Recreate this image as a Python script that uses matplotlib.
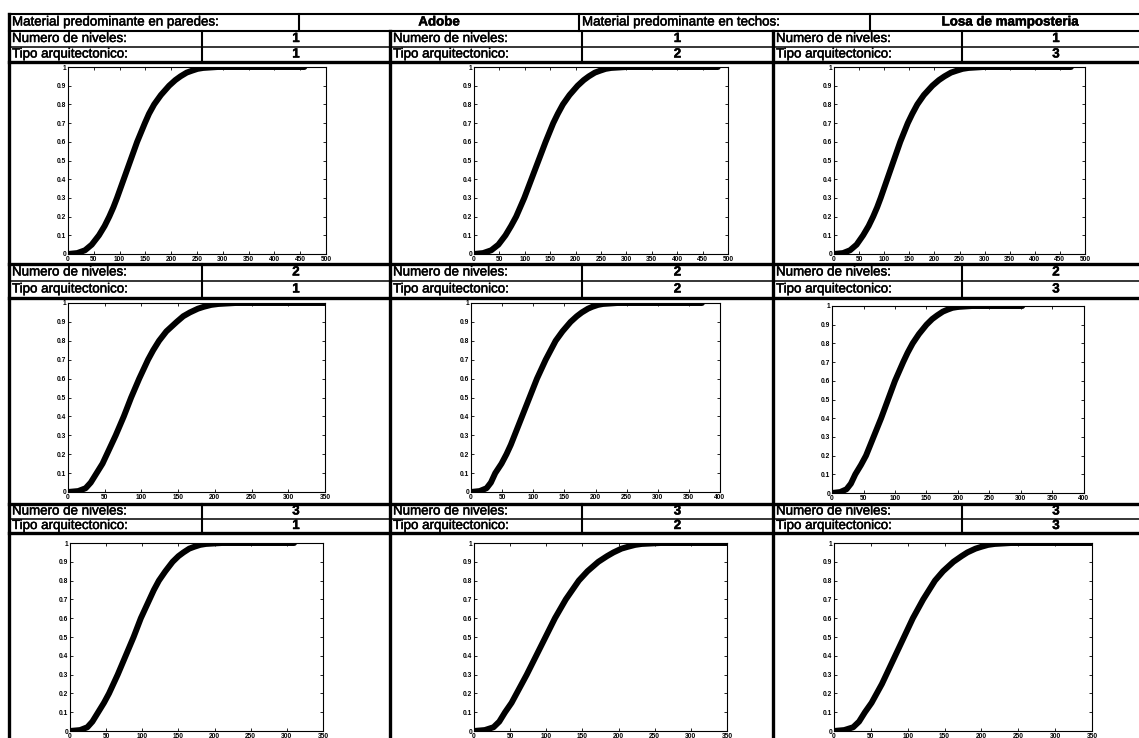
import numpy as np
import matplotlib
matplotlib.use("Agg")
import matplotlib.pyplot as plt
import matplotlib.patheffects as pe

plt.rcParams['font.family'] = ['Liberation Sans', 'DejaVu Sans']

W, H = 1139, 738

# ---- header / table texts ----
header_left_label = "Material predominante en paredes:"
header_left_value = "Adobe"
header_right_label = "Material predominante en techos:"
header_right_value = "Losa de mamposteria"
label_niveles = "Numero de niveles:"
label_tipo = "Tipo arquitectonico:"

# (niveles, tipo) for each panel, row by row
niveles = [[1, 1, 1], [2, 2, 2], [3, 3, 3]]
tipos = [[1, 2, 3], [1, 2, 3], [1, 2, 3]]

# ---- curves: probability levels and the abscissa where each panel reaches them ----
prob_levels = [0, 0.005, 0.02, 0.05, 0.1, 0.15, 0.2, 0.25, 0.3, 0.4, 0.5, 0.6, 0.7,
               0.75, 0.8, 0.85, 0.9, 0.93, 0.95, 0.97, 0.98, 0.99, 0.995, 1.0, 1.0]

x_r1c1 = [0, 18, 33, 46, 60, 71, 80, 88, 95, 108, 121, 134, 149, 157, 167, 180, 196, 208, 218, 230, 240, 251, 262, 290, 458]
x_r1c2 = [0, 18, 34, 48, 62, 73, 83, 91, 99, 113, 127, 141, 156, 165, 175, 188, 204, 216, 226, 238, 248, 259, 270, 300, 480]
x_r1c3 = [0, 18, 32, 45, 58, 69, 78, 86, 93, 106, 119, 132, 147, 156, 166, 179, 196, 209, 220, 233, 244, 256, 268, 298, 472]

x_r2c1 = [0, 14, 24, 31, 39, 47, 53, 59, 65, 76, 86, 97, 109, 116, 124, 134, 148, 157, 166, 177, 185, 195, 205, 228, 350]
x_r2c2 = [0, 14, 25, 32, 39, 49, 57, 64, 70, 82, 94, 106, 120, 128, 136, 147, 160, 170, 178, 188, 195, 204, 212, 235, 371]
x_r2c3 = [0, 13, 23, 30, 37, 46, 54, 60, 66, 78, 89, 100, 113, 120, 128, 138, 150, 159, 167, 176, 183, 191, 200, 222, 302]

x_r3c1 = [0, 14, 24, 31, 39, 47, 54, 60, 66, 77, 88, 98, 110, 116, 123, 132, 142, 150, 157, 165, 172, 180, 188, 210, 310]
x_r3c2 = [0, 15, 27, 35, 43, 52, 59, 66, 73, 86, 99, 112, 127, 136, 145, 157, 172, 184, 193, 204, 213, 223, 232, 258, 350]
x_r3c3 = [0, 14, 26, 34, 42, 51, 58, 65, 71, 83, 95, 107, 121, 129, 137, 148, 162, 173, 181, 192, 200, 209, 218, 240, 350]

curves = [[x_r1c1, x_r1c2, x_r1c3],
          [x_r2c1, x_r2c2, x_r2c3],
          [x_r3c1, x_r3c2, x_r3c3]]

# x-axis upper limits per panel
xmax = [[500, 500, 500], [350, 400, 400], [350, 350, 350]]
ytick_values = [0, 0.1, 0.2, 0.3, 0.4, 0.5, 0.6, 0.7, 0.8, 0.9, 1.0]
ytick_labels = ['0', '0.1', '0.2', '0.3', '0.4', '0.5', '0.6', '0.7', '0.8', '0.9', '1']

# ---- layout in pixels ----
left_edge = 9
col_sep = [390, 773]
col_left = [left_edge, 390, 773]
col_right = [390, 773, 1150]
val_div = [202, 582, 962]

header_top, header_bot = 14, 31
header_divs = [299, 579, 870]
bands = [(31, 47, 62), (264, 281, 298), (504, 519, 533)]

# axes rectangles (left, top, right, bottom)
axes_px = [
    [(68, 67, 326, 254), (474, 67, 728, 254), (834, 67, 1085, 254)],
    [(68, 303, 325, 492), (471, 303, 720, 492), (832, 306, 1084, 493)],
    [(70, 543, 323, 731), (474, 543, 727, 731), (834, 543, 1092, 731)],
]

fig = plt.figure(figsize=(W / 100, H / 100), dpi=100)
fig.patch.set_facecolor('white')

ov = fig.add_axes([0, 0, 1, 1])
ov.set_xlim(0, W)
ov.set_ylim(H, 0)
ov.axis('off')

thick, mid, thin = 2.4, 1.5, 1.1
fs_text = 9.6
heavy = [pe.withStroke(linewidth=0.35, foreground='black')]


def cell_text(x, y, s, ha='left', bold=False):
    ov.text(x, y, s, ha=ha, va='center', fontsize=fs_text,
            fontweight='bold' if bold else 'normal', path_effects=heavy)


# header row
ov.plot([left_edge, W], [header_top, header_top], color='black', lw=mid)
for xd in header_divs:
    ov.plot([xd, xd], [header_top, header_bot], color='black', lw=mid)
ymid = (header_top + header_bot) / 2
cell_text(left_edge + 3, ymid, header_left_label)
cell_text((header_divs[0] + header_divs[1]) / 2, ymid, header_left_value, ha='center', bold=True)
cell_text(header_divs[1] + 3, ymid, header_right_label)
cell_text(1010, ymid, header_right_value, ha='center', bold=True)

# outer vertical lines
ov.plot([left_edge, left_edge], [header_top, H], color='black', lw=thick)
for xs in col_sep:
    ov.plot([xs, xs], [header_bot, H], color='black', lw=thick)

for r, (t, m, b) in enumerate(bands):
    ov.plot([left_edge, W], [t, t], color='black', lw=mid if r == 0 else thick)
    ov.plot([left_edge, W], [m, m], color='black', lw=thin)
    ov.plot([left_edge, W], [b, b], color='black', lw=thick)
    for c in range(3):
        ov.plot([val_div[c], val_div[c]], [t, b], color='black', lw=mid)
        for (yt, yb, lab, val) in [(t, m, label_niveles, niveles[r][c]),
                                   (m, b, label_tipo, tipos[r][c])]:
            yc = (yt + yb) / 2
            cell_text(col_left[c] + 3, yc, lab)
            cell_text((val_div[c] + col_right[c]) / 2, yc, str(val), ha='center', bold=True)

# plot panels
for r in range(3):
    for c in range(3):
        l, t, rr, b = axes_px[r][c]
        ax = fig.add_axes([l / W, 1 - b / H, (rr - l) / W, (b - t) / H])
        ax.plot(curves[r][c], prob_levels, color='black', lw=4.3,
                solid_capstyle='round', solid_joinstyle='round')
        ax.set_xlim(0, xmax[r][c])
        ax.set_ylim(0, 1)
        xt = list(range(0, xmax[r][c] + 1, 50))
        ax.set_xticks(xt)
        ax.set_xticklabels([str(v) for v in xt])
        ax.set_yticks(ytick_values)
        ax.set_yticklabels(ytick_labels)
        ax.tick_params(direction='in', top=True, right=True, length=2.5, width=0.6,
                       labelsize=4.8, pad=1.2)
        for lbl in ax.get_xticklabels() + ax.get_yticklabels():
            lbl.set_fontweight('bold')
        for sp in ax.spines.values():
            sp.set_linewidth(0.8)

fig.savefig('out.png', dpi=100, facecolor='white')
